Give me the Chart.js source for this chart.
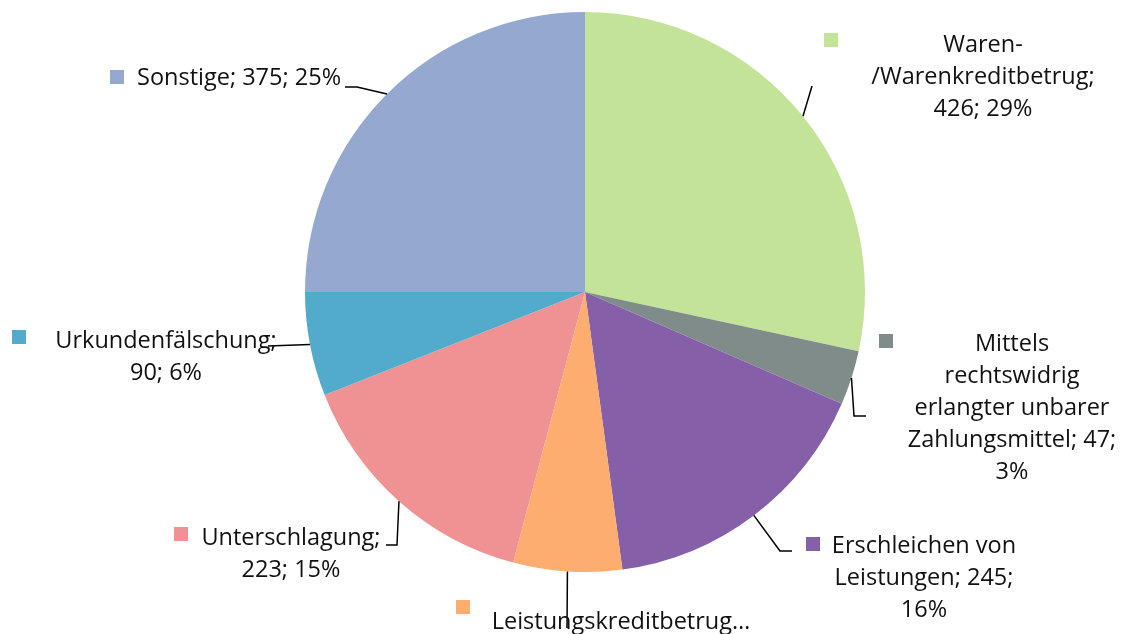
<!DOCTYPE html>
<html>
<head>
<meta charset="utf-8">
<script src="https://cdn.jsdelivr.net/npm/chart.js@4"></script>
<style>
  html, body { margin: 0; padding: 0; background: #fff; }
  #wrap { width: 1122px; height: 634px; }
</style>
</head>
<body>
<div id="wrap"><canvas id="pieChart" width="1122" height="634"></canvas></div>
<script>
// Data
const categories = [
    'Waren-/Warenkreditbetrug',
    'Mittels rechtswidrig erlangter unbarer Zahlungsmittel',
    'Erschleichen von Leistungen',
    'Leistungskreditbetrug',
    'Unterschlagung',
    'Urkundenfälschung',
    'Sonstige'
];
const values = [426, 47, 245, 94, 223, 90, 375];
const percentLabels = ['29%', '3%', '16%', '6%', '15%', '6%', '25%'];
// text of each data label, line by line (as shown in the chart)
const labelLines = [
    ['Waren-', '/Warenkreditbetrug;', '426; 29%'],
    ['Mittels', 'rechtswidrig', 'erlangter unbarer', 'Zahlungsmittel; 47;', '3%'],
    ['Erschleichen von', 'Leistungen; 245;', '16%'],
    ['Leistungskreditbetrug…'],
    ['Unterschlagung;', '223; 15%'],
    ['Urkundenfälschung;', '90; 6%'],
    ['Sonstige; 375; 25%']
];
const colors = ['#c3e399', '#7f8c89', '#8560a8', '#fdad70', '#f09193', '#52abcb', '#95a9d0'];

// Label layout: text centre x, first line middle y, marker box, leader bend points
const labelLayout = [
    { x: 983, y: 45, marker: [824, 33], align: 'center', leader: [[812, 86]] },
    { x: 1012, y: 344, marker: [879, 334], align: 'center', leader: [[854, 416], [866, 416]] },
    { x: 924, y: 546, marker: [806, 537], align: 'center', leader: [[780, 551], [792, 551]] },
    { x: 621, y: 622, marker: [456, 600], align: 'center', leader: [[567, 628]] },
    { x: 291, y: 538, marker: [174, 527], align: 'center', leader: [[397, 545], [386, 545]] },
    { x: 166, y: 341, marker: [12, 330], align: 'center', leader: [[268, 346]] },
    { x: 137, y: 78, marker: [110, 70], align: 'left', leader: [[357, 87], [345, 87]] }
];

const FONT = '23.5px "Open Sans", sans-serif';
const LINE_H = 32;

const labelPlugin = {
    id: 'excelLabels',
    afterDraw(chart) {
        const ctx = chart.ctx;
        const arcs = chart.getDatasetMeta(0).data;
        ctx.save();
        arcs.forEach((arc, i) => {
            const lay = labelLayout[i];
            // leader line starts at the outer edge, mid-angle of the slice
            const mid = (arc.startAngle + arc.endAngle) / 2;
            const sx = arc.x + Math.cos(mid) * arc.outerRadius;
            const sy = arc.y + Math.sin(mid) * arc.outerRadius;
            ctx.beginPath();
            ctx.moveTo(sx, sy);
            lay.leader.forEach(p => ctx.lineTo(p[0], p[1]));
            ctx.strokeStyle = '#000';
            ctx.lineWidth = 1.5;
            ctx.stroke();

            // legend key square
            ctx.fillStyle = colors[i];
            ctx.fillRect(lay.marker[0], lay.marker[1], 14, 14);

            // text
            ctx.fillStyle = '#111';
            ctx.font = FONT;
            ctx.textAlign = lay.align;
            ctx.textBaseline = 'middle';
            labelLines[i].forEach((line, k) => {
                ctx.fillText(line, lay.x, lay.y + k * LINE_H);
            });
        });
        ctx.restore();
    }
};

const ctx = document.getElementById('pieChart').getContext('2d');
const pieChart = new Chart(ctx, {
    type: 'pie',
    data: {
        labels: categories,
        datasets: [{
            data: values,
            backgroundColor: colors,
            borderWidth: 0
        }]
    },
    options: {
        responsive: false,
        animation: false,
        layout: {
            padding: { left: 305, right: 257, top: 12, bottom: 62 }
        },
        plugins: {
            legend: { display: false },
            tooltip: { enabled: false }
        }
    },
    plugins: [labelPlugin]
});
</script>
</body>
</html>
